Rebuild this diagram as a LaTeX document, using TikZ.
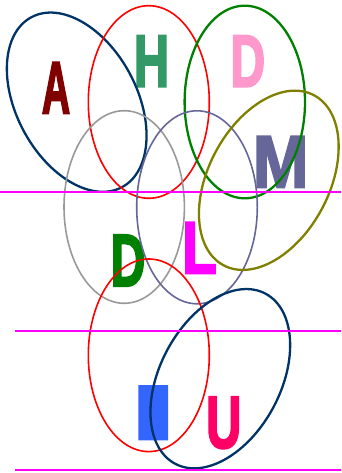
\documentclass[tikz,border=0pt]{standalone}
\usepackage{fontspec}
\newfontfamily\impact{Liberation Sans Bold}[FakeBold=3]
\definecolor{cblue}{HTML}{003366}
\definecolor{cdred}{HTML}{800000}
\definecolor{cseag}{HTML}{339966}
\definecolor{cpink}{HTML}{FF99CC}
\definecolor{cslate}{HTML}{666699}
\definecolor{cgreen}{HTML}{008000}
\definecolor{colive}{HTML}{808000}
\definecolor{cgray}{HTML}{999999}
\definecolor{cred}{HTML}{FF0000}
\definecolor{cmag}{HTML}{FF00FF}
\definecolor{cbright}{HTML}{3366FF}
\definecolor{crose}{HTML}{FF0066}
\tikzset{
  letter/.style={inner sep=0pt, anchor=south, font=\impact\fontsize{74}{80}\selectfont},
  thick ellipse/.style={line width=2.3pt},
  thin ellipse/.style={line width=1.6pt},
  rule/.style={draw=cmag, line width=1.8pt}
}
\begin{document}
\begin{tikzpicture}[x=1pt,y=1pt]
\useasboundingbox (0,0) rectangle (341,473);
% letters
\node[letter, text=cdred]   (A)  at (56,359.5)    {\scalebox{0.53}[1]{A}};
\node[letter, text=cseag]   (H)  at (151.5,386.2) {\scalebox{0.66}[1]{H}};
\node[letter, text=cpink]   (D1) at (247.8,386.2) {\scalebox{0.65}[1]{D}};
\node[letter, text=cslate]  (M)  at (280.7,285.5) {\scalebox{0.90}[1]{M}};
\node[letter, text=cgreen]  (D2) at (128,186.8)   {\scalebox{0.65}[1]{D}};
\node[letter, text=cmag]    (L)  at (199.5,199.5) {\scalebox{0.76}[1]{L}};
\node[letter, text=cbright] (I)  at (153.2,33.5)  {\scalebox{2.3}[1.04]{I}};
\node[letter, text=crose]   (U)  at (223.7,24.2)  {\scalebox{0.66}[1]{U}};
% ellipses
\draw[thick ellipse, cblue, shift={(76.7,370.8)}, rotate=28] (0,0) ellipse (60.3 and 96.3);
\draw[thin ellipse, cred] (148.8,371) ellipse (60.5 and 96.3);
\draw[thick ellipse, cgreen] (244.8,371) ellipse (60.2 and 96.3);
\draw[thin ellipse, cgray] (124.2,266) ellipse (60.2 and 96.3);
\draw[thin ellipse, cslate] (197,265.7) ellipse (60.3 and 96.5);
\draw[thick ellipse, colive, shift={(268.8,292.7)}, rotate=-28] (0,0) ellipse (60.3 and 96.3);
\draw[thin ellipse, cred] (148.8,117.7) ellipse (60.5 and 96.3);
\draw[thick ellipse, cblue, shift={(220.3,94.3)}, rotate=-28] (0,0) ellipse (60.3 and 96.3);
% rules
\coordinate (r1a) at (0,281.3);   \coordinate (r1b) at (341,281.3);
\coordinate (r2a) at (15,142.3);  \coordinate (r2b) at (341,142.3);
\coordinate (r3a) at (15,3);      \coordinate (r3b) at (341,3);
\draw[rule] (r1a) -- (r1b);
\draw[rule] (r2a) -- (r2b);
\draw[rule] (r3a) -- (r3b);
\end{tikzpicture}
\end{document}
